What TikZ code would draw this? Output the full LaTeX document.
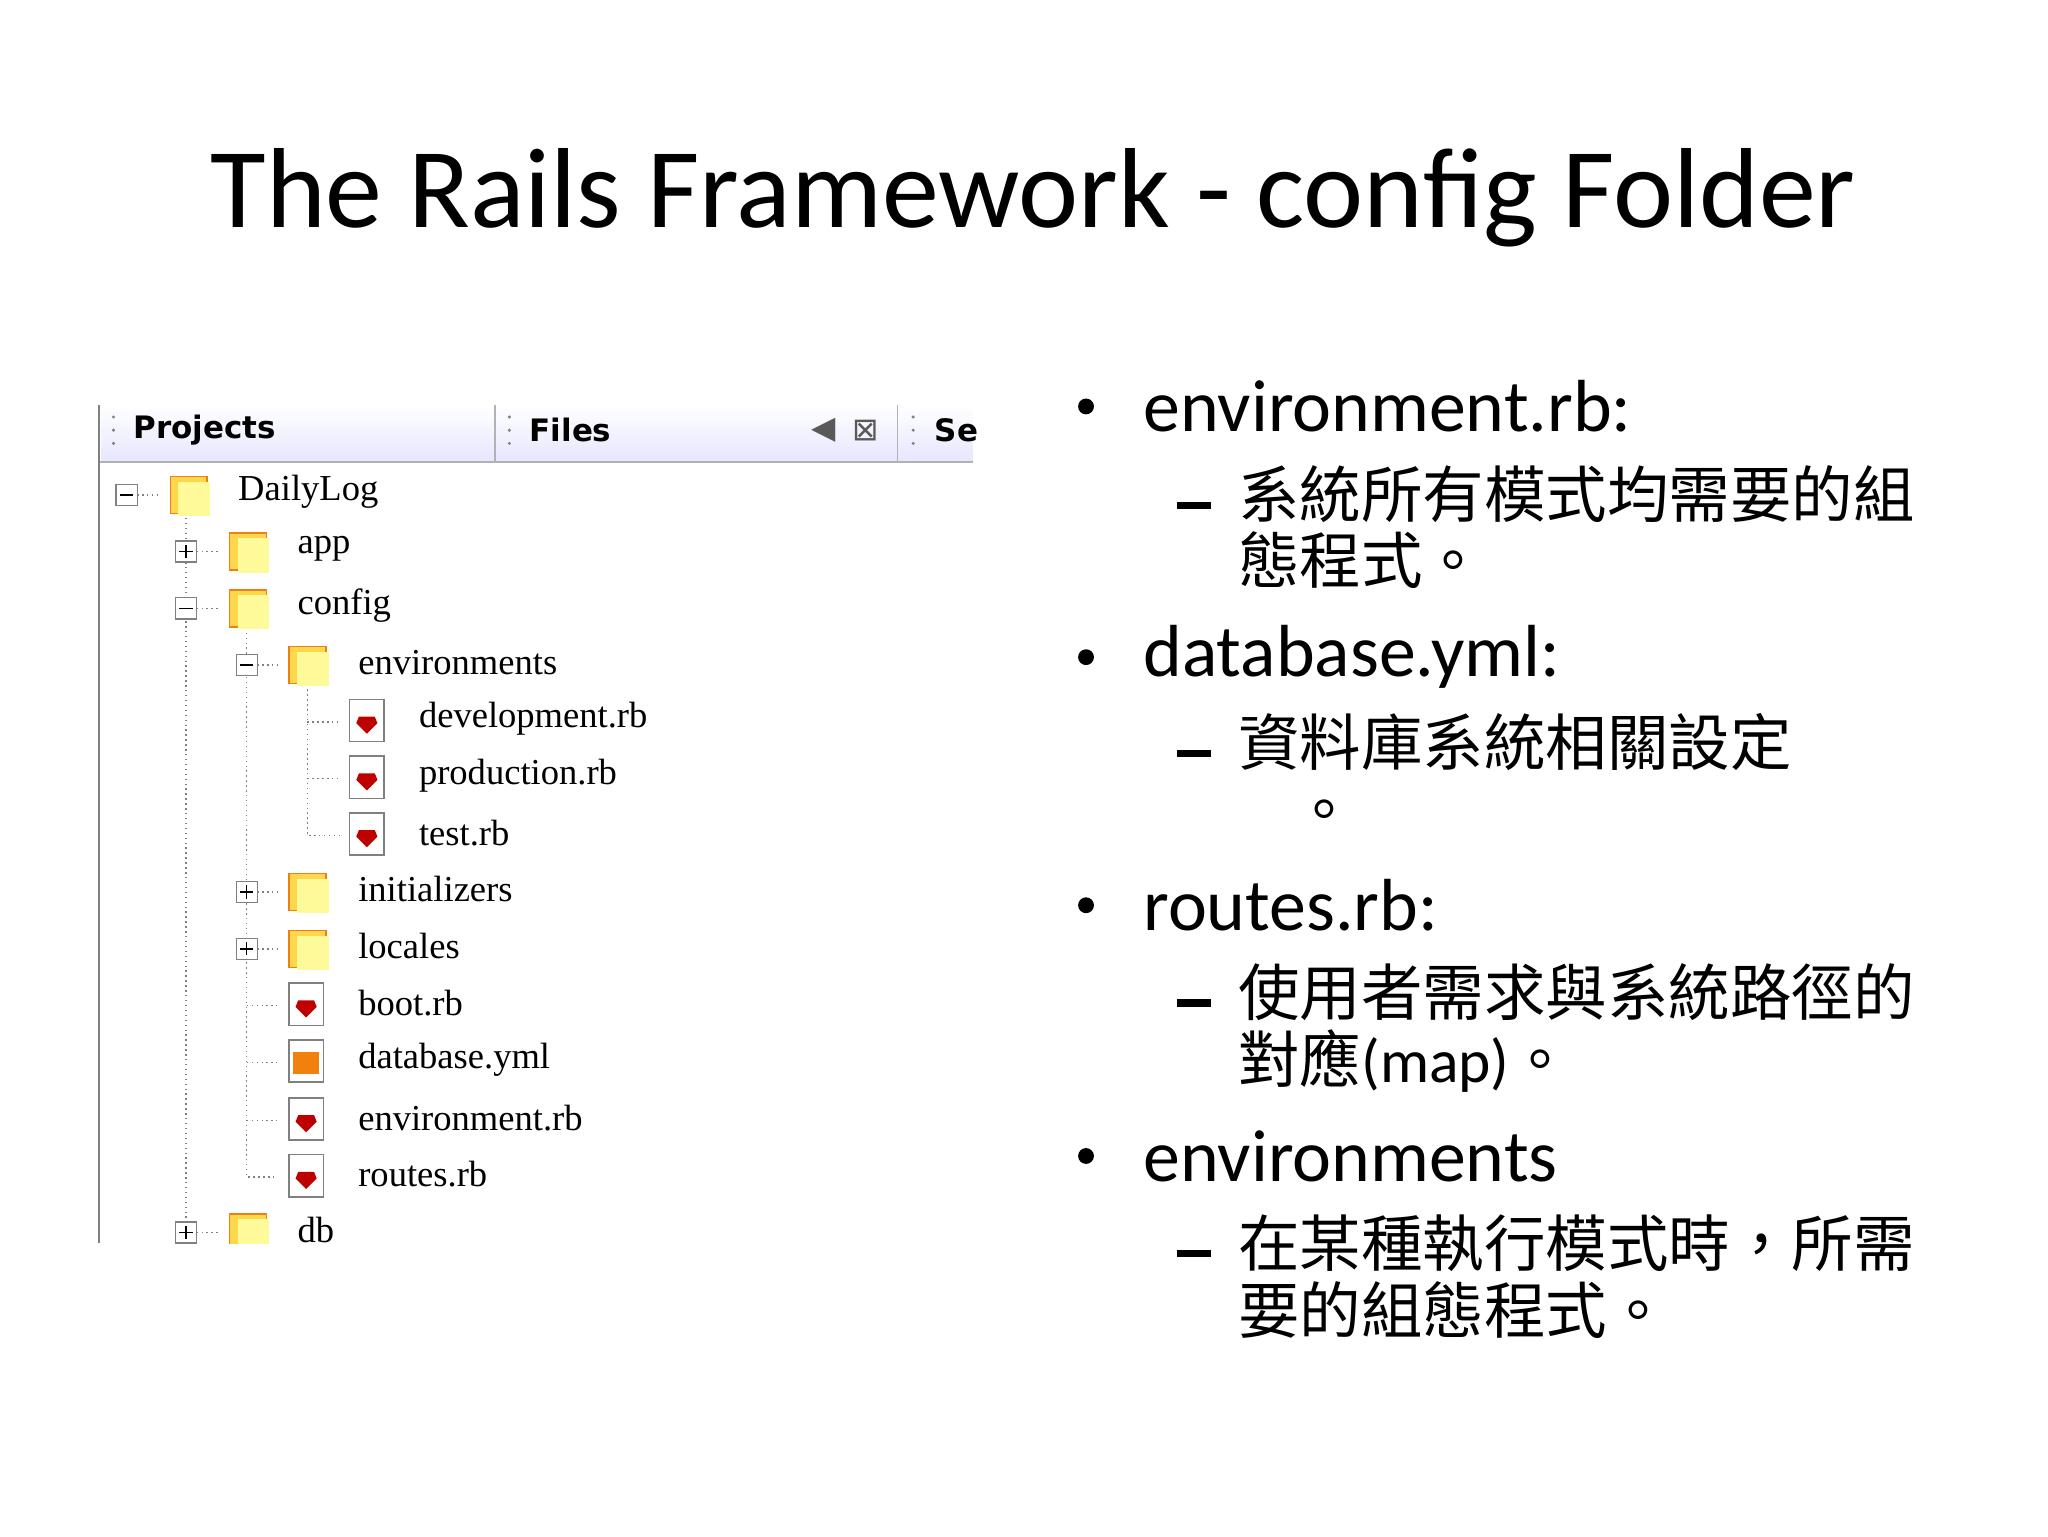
\documentclass[tikz,border=0pt]{standalone}
\usepackage{fontspec}
\setmainfont{Carlito}
\newfontfamily\cjk{Noto Sans CJK TC}
\newfontfamily\treefont{Liberation Serif}
\newfontfamily\hdrfont{DejaVu Sans}
\begin{document}
\begin{tikzpicture}[x=0.0132cm,y=-0.0132cm,
  folder/.style={fill=yellow!60!orange!70, draw=orange!70!brown},
  lbl/.style={anchor=west, font=\treefont\fontsize{10.4pt}{12pt}\selectfont, inner sep=0},
  dots/.style={gray, densely dotted},
  bul/.style={anchor=west, font=\fontsize{21pt}{24pt}\selectfont, inner sep=0},
  sub/.style={anchor=north west, font=\cjk\fontsize{17.5pt}{19pt}\selectfont, inner sep=0, align=left},
  hdr/.style={anchor=west, font=\hdrfont\bfseries\fontsize{8.8pt}{10pt}\selectfont}]
\useasboundingbox (0,0) rectangle (1552,1164);
\node[font=\fontsize{32.4pt}{38pt}\selectfont] (title) at (783,150) {The Rails Framework - config Folder};
% panel header
\shade[top color=white, bottom color=blue!10] (77,307) rectangle (737,350);
\draw[gray!60] (75,350) -- (737,350);
\draw[gray] (75,307) -- (75,942);
\draw[gray!60] (375,307) -- (375,350) (680,307) -- (680,350);
\node[hdr] (hp) at (92,326) {Projects};
\node[hdr] (hf) at (392,326) {Files};
\node[hdr] (hs) at (699,326) {Se};
\foreach \xx in {86,386,692}{\foreach \yy in {316,326,336}{\fill[gray] (\xx,\yy) circle (1.3);}}
\node[font=\hdrfont\fontsize{9pt}{10pt}\selectfont, gray!70!black] (ic1) at (624,326) {◀};
\node[font=\hdrfont\fontsize{9pt}{10pt}\selectfont, gray!70!black] (ic2) at (656,326) {⊠};
% tree
\begin{scope}
\clip (76,351) rectangle (737,942);
\draw[dots] (141,385) -- (141,928);
\draw[dots] (187,472) -- (187,892) -- (210,892);
\draw[dots] (233,515) -- (233,633) -- (258,633);
\def\folderic#1#2{\fill[folder] (#1-14,#2-14) rectangle (#1+14,#2+14); \fill[yellow!40] (#1-8,#2-10) rectangle (#1+16,#2+16);}
\def\fileic#1#2#3{\fill[white] (#1-14,#2-17) rectangle (#1+12,#2+15); \draw[gray] (#1-14,#2-17) rectangle (#1+12,#2+15);
  \fill[#3] (#1-7,#2-4) -- (#1+5,#2-4) -- (#1+7,#2+1) -- (#1-1,#2+9) -- (#1-9,#2+1) -- cycle;}
\def\expander#1#2#3{\draw[gray, fill=white] (#1-8,#2-8) rectangle (#1+8,#2+8); \draw (#1-5,#2) -- (#1+5,#2); \ifx#3p\draw (#1,#2-5) -- (#1,#2+5);\fi \draw[dots] (#1+8,#2) -- (#1+24,#2);}
\expander{96}{375}{m}\folderic{143}{375}\node[lbl] (n1) at (180,373) {DailyLog};
\expander{141}{418}{p}\folderic{188}{418}\node[lbl] (n2) at (225,416) {app};
\expander{141}{461}{m}\folderic{188}{461}\node[lbl] (n3) at (225,459) {config};
\expander{187}{504}{m}\folderic{233}{504}\node[lbl] (n4) at (271,502) {environments};
\draw[dots] (233,547) -- (258,547) (233,590) -- (258,590);
\fileic{279}{547}{red!75!black}\node[lbl] (n5) at (317,545) {development.rb};
\fileic{279}{590}{red!75!black}\node[lbl] (n6) at (317,588) {production.rb};
\fileic{279}{633}{red!75!black}\node[lbl] (n7) at (317,631) {test.rb};
\expander{187}{676}{p}\folderic{233}{676}\node[lbl] (n8) at (271,674) {initializers};
\expander{187}{719}{p}\folderic{233}{719}\node[lbl] (n9) at (271,717) {locales};
\draw[dots] (187,762) -- (210,762) (187,805) -- (210,805) (187,849) -- (210,849);
\fileic{233}{762}{red!75!black}\node[lbl] (n10) at (271,760) {boot.rb};
\fill[white] (219,788) rectangle (245,820); \draw[gray] (219,788) rectangle (245,820); \fill[orange!80!brown] (222,797) rectangle (242,814);
\node[lbl] (n11) at (271,803) {database.yml};
\fileic{233}{849}{red!75!black}\node[lbl] (n12) at (271,847) {environment.rb};
\fileic{233}{892}{red!75!black}\node[lbl] (n13) at (271,890) {routes.rb};
\expander{141}{934}{p}\folderic{188}{934}\node[lbl] (n14) at (225,932) {db};
\end{scope}
% bullets
\foreach \yy in {308,498,686,876}{\fill (823,\yy) circle (6);}
\node[bul] (b1) at (866,308) {environment.rb:};
\node[bul] (b2) at (866,498) {database.yml:};
\node[bul] (b3) at (866,686) {routes.rb:};
\node[bul] (b4) at (866,876) {environments};
\foreach \yy in {383,571,760,950}{\draw[line width=2.2] (892,\yy) -- (918,\yy);}
\node[sub] (s1) at (938,352) {系統所有模式均需要的組\\態程式。};
\node[sub] (s2) at (938,540) {資料庫系統相關設定\\\hspace{0.9em}。};
\node[sub] (s3) at (938,730) {使用者需求與系統路徑的\\對應{\fontspec{Carlito}(map)}。};
\node[sub] (s4) at (938,920) {在某種執行模式時，所需\\要的組態程式。};
\end{tikzpicture}
\end{document}
